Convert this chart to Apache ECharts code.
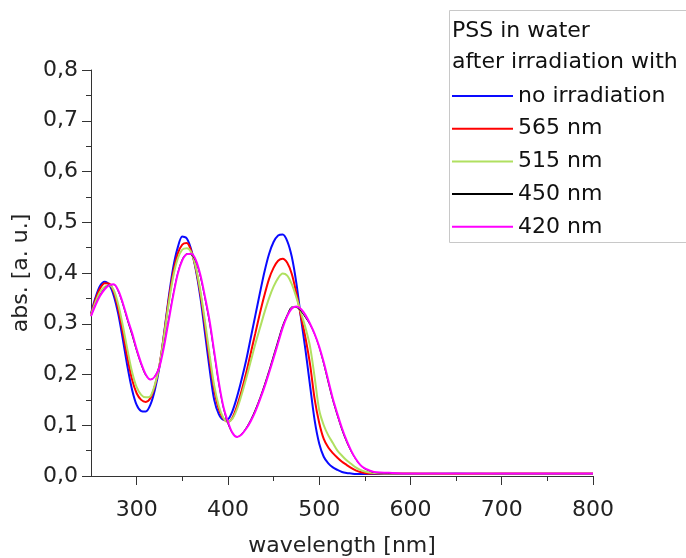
<!DOCTYPE html>
<html><head><meta charset="utf-8">
<script src="https://cdn.jsdelivr.net/npm/echarts@6/dist/echarts.min.js"></script>
<style>html,body{margin:0;padding:0;background:#fff}#c{width:686px;height:558px}</style>
</head><body><div id="c"></div>
<script>
const wavelengths = [
  250,255,260,265,270,275,280,285,290,295,
  300,305,310,315,320,325,330,335,340,345,
  350,355,360,365,370,375,380,385,390,395,
  400,405,410,415,420,425,430,435,440,445,
  450,455,460,465,470,475,480,485,490,495,
  500,505,510,515,520,525,530,535,540,545,
  550,555,560,580,600,650,700,750,800
];
const absNoIrradiation = [
  .320,.352,.375,.383,.377,.355,.318,.268,.215,.170,
  .140,.128,.127,.140,.170,.215,.280,.350,.410,.450,
  .472,.468,.445,.405,.350,.280,.210,.150,.122,.111,
  .112,.128,.156,.190,.228,.272,.316,.360,.402,.437,
  .461,.474,.476,.463,.432,.380,.312,.248,.178,.110,
  .064,.038,.025,.017,.012,.008,.006,.005,.004,.004,
  .004,.004,.004,.004,.004,.005,.004,.004,.004
];
const abs565 = [
  .318,.348,.370,.380,.379,.362,.328,.282,.232,.190,
  .163,.150,.146,.153,.178,.218,.278,.345,.400,.438,
  .456,.459,.442,.408,.358,.295,.228,.170,.132,.113,
  .107,.115,.138,.168,.203,.242,.281,.320,.356,.388,
  .410,.424,.428,.420,.398,.360,.315,.272,.220,.152,
  .105,.073,.056,.045,.036,.028,.022,.016,.011,.008,
  .006,.005,.005,.005,.005,.004,.005,.005,.005
];
const abs515 = [
  .317,.343,.363,.373,.376,.366,.337,.295,.248,.205,
  .175,.160,.155,.157,.180,.218,.275,.338,.392,.428,
  .446,.449,.440,.410,.363,.303,.238,.178,.138,.115,
  .107,.113,.132,.160,.192,.226,.260,.291,.322,.350,
  .373,.390,.399,.395,.378,.352,.322,.292,.255,.195,
  .130,.100,.080,.065,.050,.040,.031,.024,.017,.012,
  .009,.007,.006,.005,.005,.005,.005,.005,.005
];
const abs450 = [
  .315,.338,.357,.370,.377,.377,.363,.337,.306,.277,
  .246,.219,.198,.190,.197,.217,.258,.309,.358,.400,
  .427,.438,.436,.422,.391,.348,.300,.240,.181,.134,
  .103,.084,.077,.083,.095,.111,.131,.154,.180,.208,
  .238,.268,.297,.318,.333,.332,.325,.312,.298,.279,
  .253,.220,.183,.148,.118,.090,.067,.048,.033,.021,
  .014,.010,.007,.005,.005,.005,.005,.005,.005
];
const abs420 = [
  .315,.337,.355,.368,.376,.378,.365,.340,.310,.282,
  .250,.222,.200,.190,.196,.215,.255,.305,.355,.398,
  .425,.437,.438,.425,.395,.352,.305,.245,.185,.137,
  .107,.085,.077,.082,.093,.108,.127,.150,.175,.203,
  .232,.262,.292,.315,.330,.334,.329,.317,.300,.280,
  .255,.224,.188,.152,.122,.094,.070,.050,.034,.022,
  .015,.011,.008,.006,.005,.005,.005,.005,.005
];
const seriesNames = ['no irradiation','565 nm','515 nm','450 nm','420 nm'];
const xMajorTicks = [300,400,500,600,700,800];
const xMinorTicks = [350,450,550,650,750];

const FONT = 'DejaVu Sans';
const colors = ['#0a0aff','#ff0000','#b0e060','#000000','#ff00ff'];
const widths = [2,2,2,1,2];
const allData = [absNoIrradiation, abs565, abs515, abs450, abs420];

const chart = echarts.init(document.getElementById('c'), null, {renderer:'canvas'});
chart.setOption({
  animation:false,
  backgroundColor:'#fff',
  title:{
    text:'PSS in water\nafter irradiation with',
    left:452, top:16, padding:0,
    textStyle:{fontFamily:FONT, fontSize:22, fontWeight:'normal', color:'#111', lineHeight:31}
  },
  legend:{
    orient:'vertical', left:452, top:84, padding:0,
    icon:'rect', itemWidth:61, itemHeight:2, itemGap:8.7,
    textStyle:{fontFamily:FONT, fontSize:22, color:'#111', lineHeight:24},
    data:seriesNames
  },
  graphic:[{
    type:'rect', z:-10,
    shape:{x:449.5, y:10.5, width:300, height:232},
    style:{fill:'none', stroke:'#c8c8c8', lineWidth:1}
  }],
  grid:{left:91, right:93, top:70, bottom:82, containLabel:false, outerBoundsMode:'none'},
  xAxis:[{
    type:'value', min:250, max:800, interval:50,
    axisLine:{show:true, onZero:false, lineStyle:{color:'#333', width:1}},
    axisTick:{show:true, length:9, customValues:xMajorTicks, lineStyle:{color:'#333'}},
    axisLabel:{customValues:xMajorTicks, margin:23, fontFamily:FONT, fontSize:22, color:'#222'},
    splitLine:{show:false},
    name:'wavelength [nm]', nameLocation:'middle', nameGap:59,
    nameTextStyle:{fontFamily:FONT, fontSize:22, color:'#222'}
  },{
    type:'value', min:250, max:800, interval:50, position:'bottom',
    axisLine:{show:false},
    axisTick:{show:true, length:5, customValues:xMinorTicks, lineStyle:{color:'#333'}},
    axisLabel:{show:false},
    splitLine:{show:false}
  }],
  yAxis:{
    type:'value', min:0, max:0.8, interval:0.1,
    axisLine:{show:true, onZero:false, lineStyle:{color:'#333', width:1}},
    axisTick:{show:true, length:9, lineStyle:{color:'#333'}},
    minorTick:{show:true, splitNumber:2, length:5, lineStyle:{color:'#333'}},
    axisLabel:{margin:13, fontFamily:FONT, fontSize:22, color:'#222',
      formatter:v=>v.toFixed(1).replace('.',',')},
    splitLine:{show:false},
    name:'abs. [a. u.]', nameLocation:'middle', nameGap:52,
    nameTextStyle:{fontFamily:FONT, fontSize:22, color:'#222'}
  },
  series: seriesNames.map((n,k)=>({
    name:n, type:'line', xAxisIndex:0, symbol:'none', showSymbol:false,
    smooth:0.3,
    lineStyle:{color:colors[k], width:widths[k]},
    itemStyle:{color:colors[k]},
    data: wavelengths.map((w,i)=>[w, allData[k][i]])
  }))
});
</script>
</body></html>
